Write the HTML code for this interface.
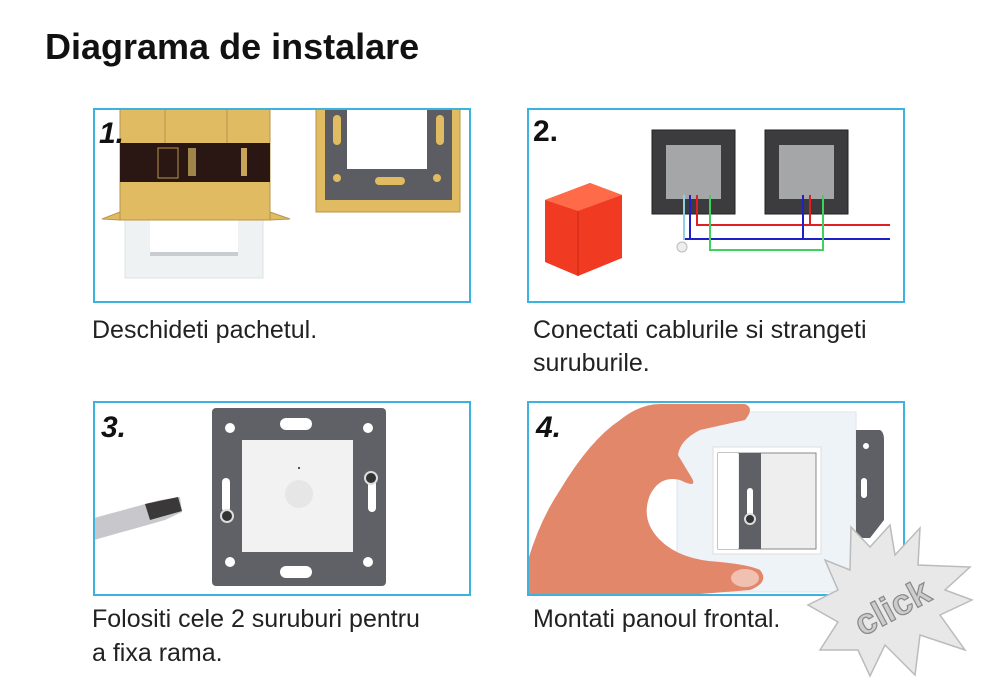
<!DOCTYPE html>
<html><head><meta charset="utf-8"><style>
html,body{margin:0;padding:0;background:#fff}
svg{display:block}
text{font-family:"Liberation Sans",sans-serif}
</style></head><body>
<svg width="1000" height="698" viewBox="0 0 1000 698" xmlns="http://www.w3.org/2000/svg">
<text x="45" y="59" font-size="36" font-weight="bold" fill="#111">Diagrama de instalare</text>

<!-- Panel 1 -->
<g>
<rect x="125" y="220" width="138" height="58" fill="#eef2f3" stroke="#dde3e5"/>
<rect x="150" y="220" width="88" height="33" fill="#fff"/>
<rect x="150" y="252" width="88" height="4" fill="#c9cdd0"/>
<rect x="120" y="109" width="150" height="111" fill="#e1bb61" stroke="#b8954a"/>
<line x1="165" y1="109" x2="165" y2="143" stroke="#b8954a"/><line x1="227" y1="109" x2="227" y2="143" stroke="#b8954a"/>
<polygon points="102,219 120,212 120,220" fill="#e1bb61" stroke="#b8954a"/>
<polygon points="290,219 270,212 270,220" fill="#e1bb61" stroke="#b8954a"/>
<rect x="120" y="143" width="150" height="39" fill="#2a1714"/>
<rect x="158" y="148" width="20" height="30" fill="none" stroke="#b8954a"/>
<rect x="188" y="148" width="8" height="28" fill="#a0854a"/>
<rect x="241" y="148" width="6" height="28" fill="#c9a55a"/>
<rect x="316" y="109" width="144" height="103" fill="#e1bb61" stroke="#b8954a"/>
<rect x="325" y="109" width="127" height="91" fill="#5c5d62"/>
<rect x="347" y="109" width="80" height="60" fill="#fff"/>
<rect x="333" y="115" width="8" height="30" rx="4" fill="#e1bb61"/>
<rect x="436" y="115" width="8" height="30" rx="4" fill="#e1bb61"/>
<rect x="375" y="177" width="30" height="8" rx="4" fill="#e1bb61"/>
<circle cx="337" cy="178" r="4" fill="#e1bb61"/><circle cx="437" cy="178" r="4" fill="#e1bb61"/>
</g>
<rect x="94" y="109" width="376" height="193" fill="none" stroke="#3bb3de" stroke-width="2"/>
<text x="99" y="143" font-size="30" font-weight="bold" font-style="italic" fill="#111">1.</text>

<!-- Panel 2 -->
<g>
<polygon points="545,200 590,183 622,195 622,258 578,276 545,262" fill="#f03a22"/>
<polygon points="590,183 622,195 578,211 545,200" fill="#ff6a48"/>
<line x1="578" y1="211" x2="578" y2="276" stroke="#c22812"/>
<rect x="652" y="130" width="83" height="84" fill="#3c3c3f" stroke="#222"/>
<rect x="666" y="145" width="55" height="54" fill="#a5a6a8"/>
<rect x="765" y="130" width="83" height="84" fill="#3c3c3f" stroke="#222"/>
<rect x="779" y="145" width="55" height="54" fill="#a5a6a8"/>
<polyline points="697,195 697,225 890,225" fill="none" stroke="#e02020" stroke-width="2"/>
<line x1="810" y1="195" x2="810" y2="225" stroke="#e02020" stroke-width="2"/>
<polyline points="690,195 690,239 890,239" fill="none" stroke="#2020c8" stroke-width="2"/>
<line x1="803" y1="195" x2="803" y2="239" stroke="#2020c8" stroke-width="2"/>
<line x1="684" y1="239" x2="690" y2="239" stroke="#2020c8" stroke-width="2"/>
<line x1="684" y1="195" x2="684" y2="240" stroke="#8fd0e8" stroke-width="2"/>
<polyline points="710,195 710,250 823,250 823,195" fill="none" stroke="#40d060" stroke-width="2"/>
<circle cx="682" cy="247" r="5" fill="#eee" stroke="#bbb"/>
</g>
<rect x="528" y="109" width="376" height="193" fill="none" stroke="#3bb3de" stroke-width="2"/>
<text x="533" y="141" font-size="30" font-weight="bold" fill="#111">2.</text>

<!-- Panel 3 -->
<g>
<polygon points="94,518 160,500 180,497 182,512 165,520 94,540" fill="#c8c8cc"/>
<polygon points="145,504 178,497 182,511 150,520" fill="#3a3838"/>
<rect x="212" y="408" width="174" height="178" rx="4" fill="#606166"/>
<rect x="242" y="440" width="111" height="112" fill="#f2f2f2"/>
<circle cx="299" cy="494" r="14" fill="#e6e6e6"/>
<circle cx="299" cy="468" r="1" fill="#222"/>
<rect x="280" y="418" width="32" height="12" rx="6" fill="#fff"/>
<rect x="280" y="566" width="32" height="12" rx="6" fill="#fff"/>
<rect x="222" y="478" width="8" height="34" rx="4" fill="#fff"/>
<rect x="368" y="478" width="8" height="34" rx="4" fill="#fff"/>
<circle cx="230" cy="428" r="5" fill="#fff"/><circle cx="368" cy="428" r="5" fill="#fff"/>
<circle cx="230" cy="562" r="5" fill="#fff"/><circle cx="368" cy="562" r="5" fill="#fff"/>
<circle cx="227" cy="516" r="6" fill="#333" stroke="#ddd" stroke-width="2"/>
<circle cx="371" cy="478" r="6" fill="#333" stroke="#ddd" stroke-width="2"/>
</g>
<rect x="94" y="402" width="376" height="193" fill="none" stroke="#3bb3de" stroke-width="2"/>
<text x="101" y="437" font-size="30" font-weight="bold" font-style="italic" fill="#111">3.</text>

<!-- Panel 4 -->
<g>
<rect x="677" y="412" width="179" height="180" fill="#eef3f8" stroke="#dde4ea"/>
<path d="M856,430 L880,430 Q884,432 884,440 L884,520 L870,538 L856,538 Z" fill="#5f6066"/>
<circle cx="866" cy="446" r="3" fill="#fff"/>
<rect x="861" y="478" width="6" height="20" rx="3" fill="#fff"/>
<rect x="713" y="447" width="108" height="107" fill="#fff" stroke="#ddd"/>
<rect x="718" y="453" width="98" height="96" fill="#eee" stroke="#888"/>
<rect x="718" y="453" width="20" height="96" fill="#fff"/>
<rect x="739" y="453" width="22" height="96" fill="#5f6066"/>
<rect x="747" y="488" width="6" height="28" rx="3" fill="#fff"/>
<circle cx="750" cy="519" r="5" fill="#333" stroke="#ddd" stroke-width="2"/>
<path d="M528,560 Q540,520 560,490 Q590,440 620,420 Q640,404 660,404 L745,404 Q755,408 745,420 L700,430 Q680,440 678,455 L690,475 Q700,490 680,480 Q660,475 650,495 Q640,520 660,540 Q680,560 720,562 Q750,565 760,570 Q770,582 750,590 L700,594 L528,594 Z" fill="#e3876b"/>
<ellipse cx="745" cy="578" rx="14" ry="9" fill="#f0c0b0"/>
</g>
<rect x="528" y="402" width="376" height="193" fill="none" stroke="#3bb3de" stroke-width="2"/>
<text x="536" y="437" font-size="30" font-weight="bold" font-style="italic" fill="#111">4.</text>

<!-- starburst -->
<polygon points="851,527 870,547 890,525 895,555 920,528 918,565 970,567 945,590 972,600 940,615 965,650 920,635 915,675 885,645 870,676 858,650 820,650 838,622 808,605 838,590 825,560 850,570" fill="#e8e8e8" stroke="#bbb" stroke-width="1.5"/>
<text x="848" y="622" font-size="36" font-weight="bold" fill="#ccc" stroke="#888" stroke-width="1.2" transform="rotate(-28 885 600)">click</text>

<!-- captions -->
<g font-size="25" fill="#222">
<text x="92" y="338">Deschideti pachetul.</text>
<text x="533" y="338">Conectati cablurile si strangeti</text>
<text x="533" y="371">suruburile.</text>
<text x="92" y="627">Folositi cele 2 suruburi pentru</text>
<text x="92" y="661">a fixa rama.</text>
<text x="533" y="627">Montati panoul frontal.</text>
</g>
</svg>
</body></html>
